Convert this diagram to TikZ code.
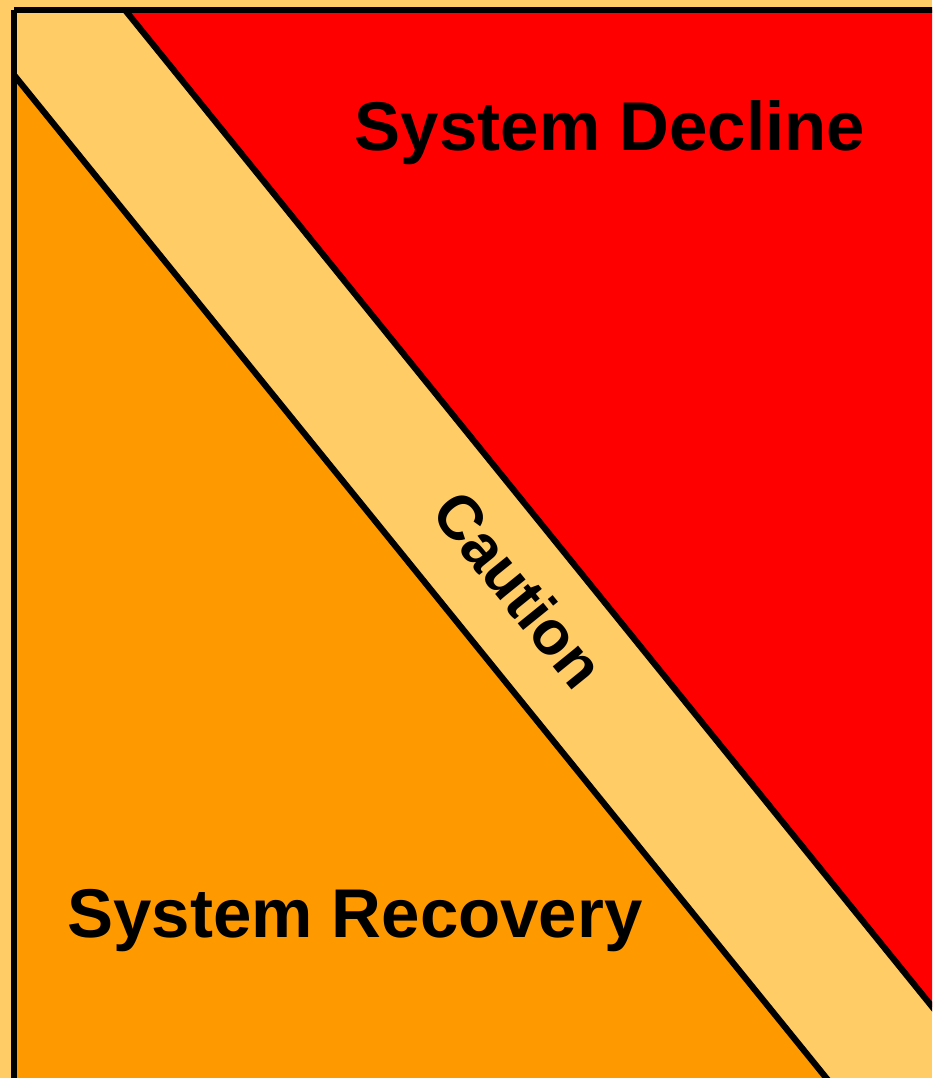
\documentclass[tikz,border=0pt]{standalone}
\usepackage{fontspec}
\setmainfont{Liberation Sans}
\definecolor{bglight}{RGB}{255,204,102}
\definecolor{declinered}{RGB}{255,0,0}
\definecolor{recoveryorange}{RGB}{255,153,0}
\tikzset{
  edgeline/.style={draw=black, line width=6.2pt},
  zonelabel/.style={font=\bfseries\fontsize{69}{83}\selectfont, text=black, inner sep=0pt},
  bandlabel/.style={font=\bfseries\fontsize{62}{74}\selectfont, text=black, inner sep=0pt}
}
\begin{document}
\begin{tikzpicture}[x=1pt,y=-1pt]
\useasboundingbox (0,0) rectangle (932,1078);
\clip (0,0) rectangle (932,1078);
\fill[bglight] (0,0) rectangle (932,1078);
% red zone
\coordinate (rTop) at (125,10);
\coordinate (rEnd) at (945,1022.6);
\fill[declinered] (rTop) -- (945,10) -- (rEnd) -- cycle;
% orange zone
\coordinate (oTop) at (14,75);
\coordinate (oEnd) at (836,1090);
\fill[recoveryorange] (oTop) -- (oEnd) -- (14,1090) -- cycle;
% borders
\coordinate (tl) at (14,10);
\coordinate (tr) at (945,10);
\coordinate (bl) at (14,1090);
\draw[edgeline] (tl) -- (tr);
\draw[edgeline] (tl) -- (bl);
\draw[edgeline] (rTop) -- (rEnd);
\draw[edgeline] (oTop) -- (oEnd);
% labels
\node[zonelabel, anchor=base] (decline) at (610,151) {System Decline};
\node[zonelabel, anchor=base] (recovery) at (355,937) {System Recovery};
\node[bandlabel, anchor=center, rotate=-51] (caution) at (519,589) {Caution};
\end{tikzpicture}
\end{document}
